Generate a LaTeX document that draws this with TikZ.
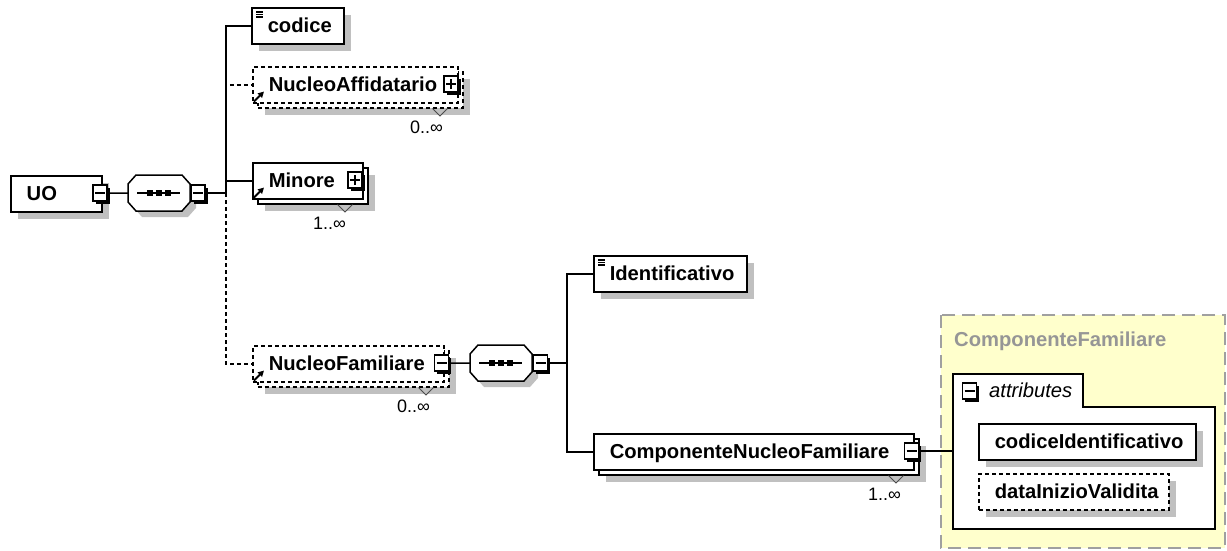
\documentclass[tikz,border=0pt]{standalone}
\usepackage{fontspec}
\setmainfont{Liberation Sans}
\usetikzlibrary{shadows,arrows.meta}
\definecolor{shadowGray}{RGB}{192,192,192}
\definecolor{groupYellow}{RGB}{255,255,204}
\definecolor{groupGray}{RGB}{160,160,160}
\definecolor{labelGray}{RGB}{150,150,150}
\newcommand{\elemFont}{\bfseries\fontsize{20.2}{24}\selectfont}
\newcommand{\attrFont}{\itshape\fontsize{20.2}{24}\selectfont}
\newcommand{\cardFont}{\fontsize{18}{22}\selectfont}
\begin{document}
\begin{tikzpicture}
[x=1pt,y=-1pt,
  lineDecorate/.style={-,line width=1.5pt},%
  optLineDecorate/.style={lineDecorate,dash pattern=on 4pt off 3pt},%
  busDecorate/.style={lineDecorate,to path={|- (\tikztotarget)}},%
  optBusDecorate/.style={optLineDecorate,to path={|- (\tikztotarget)}},%
  boxShadow/.style={drop shadow={shadow xshift=7pt,shadow yshift=-7pt,fill=shadowGray,opacity=1}},%
  boxBase/.style={draw,fill=white,line width=1.5pt,anchor=north west,minimum height=36pt,inner sep=0pt},%
  textBase/.style={align=left,text height=15pt,text depth=1pt,font=\elemFont,execute at begin node={\hspace*{16pt}}},%
  elemDecorate/.style={boxBase,boxShadow,textBase},%
  optDecorate/.style={elemDecorate,dash pattern=on 4pt off 3pt},%
  frontDecorate/.style={boxBase,textBase},%
  frontOptDecorate/.style={frontDecorate,dash pattern=on 4pt off 3pt},%
  backDecorate/.style={boxBase,boxShadow},%
  backOptDecorate/.style={backDecorate,dash pattern=on 4pt off 3pt},%
  seqDecorate/.style={rectangle,minimum width=62pt,minimum height=36pt,inner sep=0pt,anchor=north west},%
  seqOutline/.style={draw,fill=white,line width=1.5pt,
    drop shadow={shadow xshift=6pt,shadow yshift=-6pt,fill=shadowGray,opacity=1}},%
  btnDecorate/.style={draw,fill=white,line width=1.5pt,minimum width=14pt,minimum height=16pt,inner sep=0pt,
    drop shadow={shadow xshift=2.5pt,shadow yshift=-2.5pt,fill=black,opacity=1}},%
  minusBtn/.style={btnDecorate,path picture={
      \draw[line width=1.3pt] ([xshift=-5pt]path picture bounding box.center) -- ([xshift=5pt]path picture bounding box.center);}},%
  plusBtn/.style={btnDecorate,path picture={
      \draw[line width=1.3pt] ([xshift=-5pt]path picture bounding box.center) -- ([xshift=5pt]path picture bounding box.center);
      \draw[line width=1.3pt] ([yshift=-5pt]path picture bounding box.center) -- ([yshift=5pt]path picture bounding box.center);}},%
  cardDecorate/.style={anchor=base west,inner sep=0pt,font=\cardFont},%
  tickDecorate/.style={-,line width=1pt,draw=black!70},%
  iconDecorate/.style={-,line width=1.2pt},%
  refDecorate/.style={-{Triangle[length=6pt,width=6pt]},line width=2pt},%
  groupDecorate/.style={draw=groupGray,fill=groupYellow,line width=1.8pt,dash pattern=on 13pt off 7pt},%
  attrFrame/.style={draw,fill=white,line width=1.5pt}]
\useasboundingbox (0,0) rectangle (1227,550);
%% complex type and its attributes
\draw[groupDecorate] (941,315) rectangle (1225,548);
\node[anchor=base west,inner sep=0pt,font=\elemFont,text=labelGray] (groupLabel) at (954,346) {ComponenteFamiliare};
\draw[attrFrame] (953,374) -- (1083,374) -- (1083,407) -- (1215,407) -- (1215,529) -- (953,529) -- cycle;
\coordinate (attrWest) at (953,451);
\node[anchor=base west,inner sep=0pt,font=\attrFont] (attrLabel) at (989,397) {attributes};
%% stacked copies behind repeated elements
\foreach \nodename/\x/\y/\w/\deco in {
  nucleoAffBack/257/71/205/backOptDecorate, minoreBack/257/167/110/backDecorate,
  nucleoFamBack/257/350/191/backOptDecorate, componenteBack/598/438/320/backDecorate}
{
  \node[\deco, minimum width=\w pt] (\nodename) at (\x,\y) {};
}
%% elements
\foreach \nodename/\nodelabel/\x/\y/\w/\deco in {
  uo/UO/10/175/91/elemDecorate, codice/codice/251/7/92/elemDecorate,
  nucleoAff/NucleoAffidatario/252/66/205/frontOptDecorate, minore/Minore/252/162/110/frontDecorate,
  nucleoFam/NucleoFamiliare/252/345/191/frontOptDecorate, ident/Identificativo/593/255/153/elemDecorate,
  componente/ComponenteNucleoFamiliare/593/433/320/frontDecorate,
  codiceId/codiceIdentificativo/978/423/217/elemDecorate, dataInizio/dataInizioValidita/978/473/190/optDecorate}
{
  \node[\deco, text width=\w pt] (\nodename) at (\x,\y) {\nodelabel};
}
%% sequences
\foreach \nodename/\x/\y in {seqA/128/175, seqB/470/345}
{
  \draw[seqOutline] (\x,\y) ++(8,0) -- ++(46,0) -- ++(8,9) -- ++(0,18) -- ++(-8,9)
    -- ++(-46,0) -- ++(-8,-9) -- ++(0,-18) -- cycle;
  \node[seqDecorate] (\nodename) at (\x,\y) {};
  \draw[lineDecorate] ([xshift=-22pt]\nodename.center) -- ([xshift=21pt]\nodename.center);
  \foreach \dx in {-9,0,9}
    \fill ([xshift=\dx pt]\nodename.center) +(-3,-3) rectangle +(3,3);
}
%% expand and collapse buttons
\foreach \nodename/\x/\y/\deco in {
  uoBtn/100/193/minusBtn, seqABtn/198/193/minusBtn, nucleoAffBtn/451/84/plusBtn,
  minoreBtn/355/180/plusBtn, nucleoFamBtn/441.5/363/minusBtn, seqBBtn/540.5/363/minusBtn,
  componenteBtn/911.5/451/minusBtn, attrBtn/969.5/391/minusBtn}
{
  \node[\deco] (\nodename) at (\x,\y) {};
}
%% icons and repeat marks
\foreach \nodename in {codice, ident}
  \foreach \dy in {5,7.5,10}
    \draw[iconDecorate] ([shift={(5,\dy)}]\nodename.north west) -- ++(7,0);
\foreach \nodename in {nucleoAff, minore, nucleoFam}
  \draw[refDecorate] ([shift={(2,-2)}]\nodename.south west) -- ++(10,-10);
\foreach \nodename in {nucleoAffBack, minoreBack, nucleoFamBack, componenteBack}
  \draw[tickDecorate] ([xshift=-31pt]\nodename.south east) -- ++(7.5,7.5) -- ++(7.5,-7.5);
\foreach \nodename/\nodelabel/\x/\y in {
  nucleoAffCard/0/410/133, minoreCard/1/313/229, nucleoFamCard/0/397/412, componenteCard/1/868/500}
{
  \node[cardDecorate] (\nodename) at (\x,\y) {\nodelabel..∞};
}
%% edges or lines
\coordinate (busA) at (226,193);
\coordinate (busB) at (567,363);
\path
\foreach \startnode/\endnode/\deco in {
  uoBtn.east/seqA.west/lineDecorate, seqABtn.east/busA/lineDecorate,
  busA/nucleoAff.west/optBusDecorate, busA/nucleoFam.west/optBusDecorate,
  busA/codice.west/busDecorate, busA/minore.west/busDecorate,
  nucleoFamBtn.east/seqB.west/lineDecorate, seqBBtn.east/busB/lineDecorate,
  busB/ident.west/busDecorate, busB/componente.west/busDecorate,
  componenteBtn.east/attrWest/lineDecorate}
{
  (\startnode) edge[\deco] (\endnode)
};
\end{tikzpicture}
\end{document}
